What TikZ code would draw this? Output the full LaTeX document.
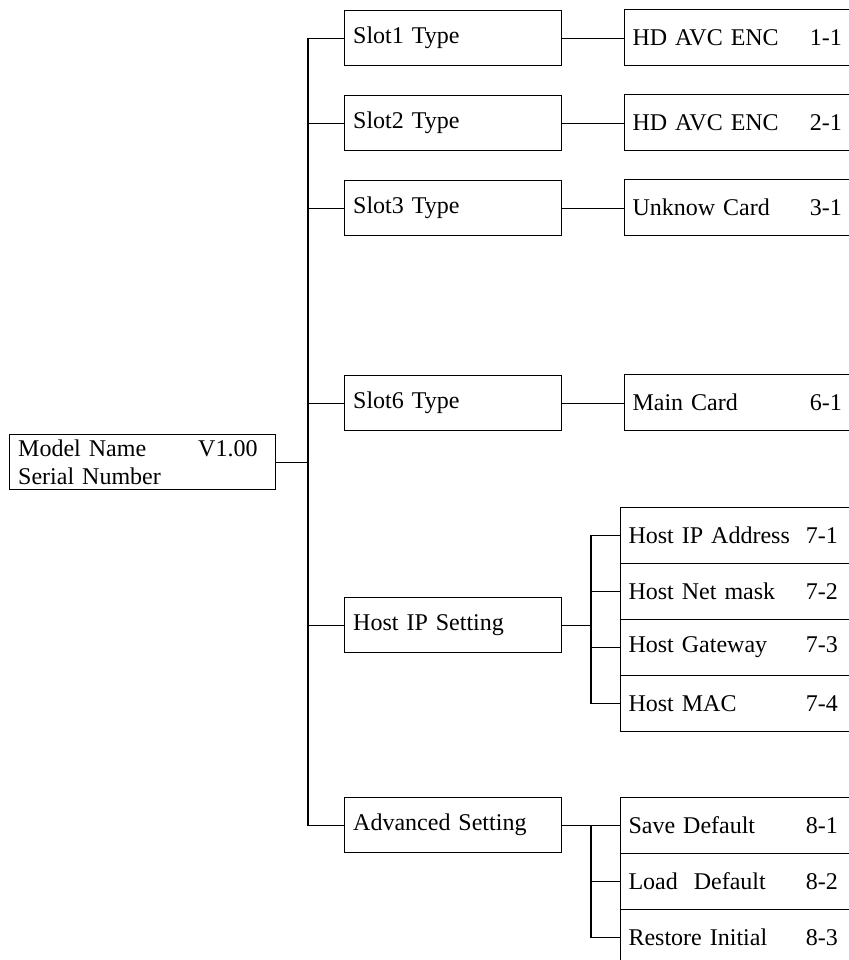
\documentclass[tikz,border=0pt]{standalone}
\usepackage{fontspec}
\setmainfont{Liberation Serif}[WordSpace=0.85]
\newcommand{\itm}[2]{\makebox[133pt][l]{#1}#2}
\begin{document}
\begin{tikzpicture}[x=0.75pt,y=0.75pt,yscale=-1,xscale=1,
  every node/.style={font=\fontsize{18}{21}\selectfont},
  menubox/.style={draw,line width=0.8pt,anchor=north west,inner xsep=6.5pt,inner ysep=0pt,
    minimum height=41.25pt,text width=149.75pt,align=left},
  itembox/.style={draw,line width=0.8pt,anchor=north west,inner xsep=6pt,inner ysep=0pt,
    minimum height=42pt,text width=220pt,align=left},
  wire/.style={line width=0.8pt}]
\useasboundingbox (0,0) rectangle (849,960);

\draw (9,434) node [draw,line width=0.8pt,anchor=north west,inner xsep=6.5pt,inner ysep=0pt,
  minimum height=41.25pt,text width=186.5pt,align=left] (model)
  {\makebox[135pt][l]{Model Name}V1.00\\Serial Number};

\draw (344,10) node [menubox] (s1) {Slot1 Type};
\draw (344,95) node [menubox] (s2) {Slot2 Type};
\draw (344,180) node [menubox] (s3) {Slot3 Type};
\draw (344,375) node [menubox] (s6) {Slot6 Type};
\draw (344,597) node [menubox] (hip) {Host IP Setting};
\draw (344,797) node [menubox] (adv) {Advanced Setting};

\draw (624,9) node [itembox] (c1) {\itm{HD AVC ENC}{1-1}};
\draw (624,94) node [itembox] (c2) {\itm{HD AVC ENC}{2-1}};
\draw (624,179) node [itembox] (c3) {\itm{Unknow Card}{3-1}};
\draw (624,374) node [itembox] (c6) {\itm{Main Card}{6-1}};

\draw (620,507) node [itembox] (h1) {\itm{Host IP Address}{7-1}};
\draw (620,563) node [itembox] (h2) {\itm{Host Net mask}{7-2}};
\draw (620,619) node [itembox] (h3) {\itm{Host Gateway}{7-3}};
\draw (620,675) node [itembox] (h4) {\itm{Host MAC}{7-4}};

\draw (620,797) node [itembox] (a1) {\itm{Save Default}{8-1}};
\draw (620,853) node [itembox] (a2) {\itm{Load~ Default}{8-2}};
\draw (620,909) node [itembox] (a3) {\itm{Restore Initial}{8-3}};

\coordinate (trunk) at (308,0);
\coordinate (hbus) at (591,0);
\coordinate (abus) at (591,0);

% main tree
\draw [wire] (s1.west) -| (adv.west -| trunk) -- (adv.west);
\foreach \n in {s2,s3,s6,hip}
  \draw [wire] (\n.west) -- (\n.west -| trunk);
\draw [wire] (model.east) -- (model.east -| trunk);

% slot cards
\foreach \n/\m in {s1/c1,s2/c2,s3/c3,s6/c6}
  \draw [wire] (\n.east) -- (\n.east -| \m.west);

% host ip
\draw [wire] (hip.east) -- (hip.east -| hbus);
\draw [wire] (h1.west) -| (h4.west -| hbus) -- (h4.west);
\foreach \n in {h2,h3}
  \draw [wire] (\n.west) -- (\n.west -| hbus);

% advanced
\draw [wire] (adv.east) -- (adv.east -| abus);
\draw [wire] (a1.west) -| (a3.west -| abus) -- (a3.west);
\draw [wire] (a2.west) -- (a2.west -| abus);

\end{tikzpicture}
\end{document}
